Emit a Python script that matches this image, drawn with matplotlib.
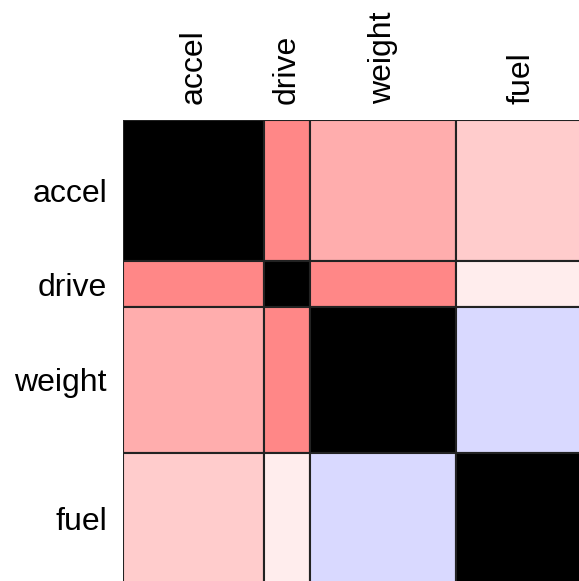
import matplotlib
matplotlib.use("Agg")
import matplotlib.pyplot as plt
from matplotlib.patches import Rectangle
import numpy as np

variables = ["accel", "drive", "weight", "fuel"]
sizes = [141, 46, 146, 130]  # relative cell sizes per variable
corr = np.array([
    [1.00, 0.47, 0.32, 0.20],
    [0.47, 1.00, 0.47, 0.07],
    [0.32, 0.47, 1.00, -0.15],
    [0.20, 0.07, -0.15, 1.00],
])

def color_for(v, diag):
    if diag:
        return (0, 0, 0)
    if v >= 0:
        return (1, 1 - v, 1 - v)
    return (1 + v, 1 + v, 1)

plt.rcParams['font.family'] = ['Liberation Sans', 'DejaVu Sans']
W, H = 579, 581
fig = plt.figure(figsize=(W / 100, H / 100), dpi=100)
total = sum(sizes)
ax = fig.add_axes([123 / W, 1 - (120 + total) / H, total / W, total / H])

edges = np.concatenate([[0], np.cumsum(sizes)])
centers = (edges[:-1] + edges[1:]) / 2
for i in range(len(variables)):
    for j in range(len(variables)):
        x0 = edges[j]
        y0 = edges[i]
        ax.add_patch(Rectangle((x0, y0), sizes[j], sizes[i],
                               facecolor=color_for(corr[i, j], i == j),
                               edgecolor='#222222', linewidth=1.5))

ax.set_xlim(0, total)
ax.set_ylim(total, 0)
ax.set_xticks(centers)
ax.set_xticklabels(variables, rotation=90, fontsize=23)
ax.set_yticks(centers)
ax.set_yticklabels(variables, fontsize=23)
ax.xaxis.tick_top()
ax.tick_params(length=0, pad=11.5)
for s in ax.spines.values():
    s.set_visible(False)

fig.savefig("out.png", dpi=100)
